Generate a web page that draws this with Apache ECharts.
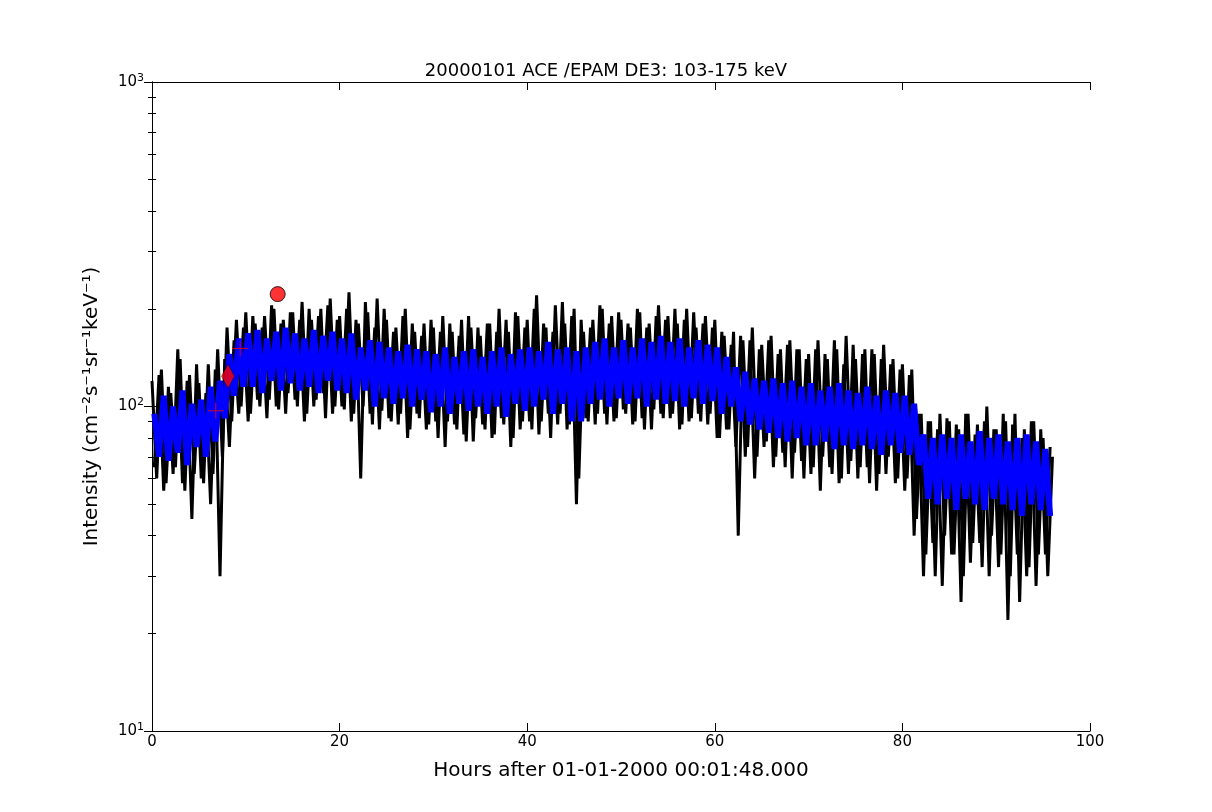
<!DOCTYPE html>
<html><head><meta charset="utf-8">
<script src="https://cdn.jsdelivr.net/npm/echarts@6/dist/echarts.min.js"></script>
<style>html,body{margin:0;background:#fff}#c{width:1212px;height:812px}</style>
</head><body><div id="c"></div>
<script>
const stepHours = 0.5;
const blackValues = [
120,60,130,58,110,65,140,55,125,62,
118,58,135,62,150,70,175,90,185,100,
195,95,180,100,190,105,200,98,185,110,
195,100,210,95,185,105,200,92,215,100,
190,98,225,95,180,100,195,88,215,97,
185,90,175,95,200,85,170,92,180,88,
175,80,190,90,170,85,185,78,175,92,
165,85,180,82,200,88,170,80,190,90,
185,85,220,90,175,80,205,95,180,88,
200,60,170,90,185,95,200,88,190,92,
185,95,175,90,195,85,180,98,205,92,
190,95,180,88,200,92,175,90,190,95,
185,80,165,85,170,40,160,75,175,70,
155,78,165,70,150,65,160,72,150,60,
145,65,160,70,140,62,150,60,165,68,
140,65,150,58,145,62,155,70,140,60,
135,60,130,45,95,35,90,30,95,40,
90,35,85,30,95,38,88,32,100,40,
85,35,90,30,95,25,85,32,90,35,
80,30,70];
const blackValues2 = [
65,125,55,115,62,150,58,120,45,135,
60,110,50,130,30,140,75,160,95,175,
90,190,105,175,92,205,100,180,95,195,
105,185,90,200,100,190,110,205,95,185,
100,200,90,185,60,210,95,175,85,200,
92,170,88,190,80,180,95,165,85,185,
90,170,75,180,88,165,82,190,78,175,
88,180,80,170,92,185,75,195,85,175,
90,200,82,180,95,170,88,210,85,190,
50,185,92,175,88,205,95,180,90,195,
98,180,88,200,92,175,85,190,95,185,
92,200,85,185,90,195,95,180,88,175,
80,170,85,155,75,165,70,160,60,150,
75,160,65,145,72,155,60,150,68,140,
62,150,55,145,65,160,58,135,62,155,
60,145,65,150,55,140,62,135,58,130,
55,125,40,95,30,90,38,85,28,92,
35,88,25,95,33,82,38,90,30,85,
32,95,22,88,35,80,30,90,28,85,
35,75];
const blueValues = [
95,70,108,68,100,72,112,66,102,75,
105,70,115,78,120,92,145,108,162,115,
168,115,172,110,162,120,170,112,175,118,
168,112,162,115,172,110,165,120,170,112,
162,110,168,105,152,112,160,100,158,106,
152,102,148,106,155,100,150,105,148,96,
145,100,152,95,142,102,148,97,150,100,
142,95,148,100,152,93,145,102,150,97,
152,100,148,105,158,95,150,102,152,90,
148,90,152,102,158,105,162,100,152,106,
160,102,152,106,162,100,158,105,165,102,
158,104,162,100,152,106,160,102,155,104,
152,95,142,100,132,90,128,88,122,85,
120,83,122,80,118,78,120,80,115,76,
118,76,112,78,115,74,118,76,112,74,
110,76,115,74,108,71,112,76,110,72,
108,71,102,66,82,52,80,50,82,52,
80,48,82,52,78,50,84,48,80,52,
82,50,78,48,80,46,82,50,78,48,
74,46];
const circlePt = [[13.4, 222]];
const diamondPt = [[8.1, 124]];
const plusPts = [[9.4, 151], [6.8, 97]];

const blackData = blackValues.map((v,i)=>[i*stepHours, v]);
const blackData2 = blackValues2.map((v,i)=>[i*stepHours+0.25, v]);
const blueData = blueValues.map((v,i)=>[i*stepHours+0.25, v]);
const plusPath = 'path://M-1,0L1,0M0,-1L0,1';
const ff = 'DejaVu Sans';
const logLabel = {fontFamily:ff,fontSize:15,color:'#000',
  formatter:v=>'{b|10}{s|'+Math.round(Math.log10(v))+'}',
  rich:{b:{fontSize:15,fontFamily:ff,color:'#000'},s:{fontSize:11,fontFamily:ff,color:'#000',verticalAlign:'top',padding:[0,0,8,0]}}};
const yBase = {type:'log',min:10,max:1000,logBase:10,
  axisLine:{show:true,lineStyle:{color:'#000',width:1}},
  axisTick:{inside:true,length:8,lineStyle:{color:'#000'}},
  minorTick:{show:true,splitNumber:9,length:4,lineStyle:{color:'#000'}},
  splitLine:{show:false}};
const xBase = {type:'value',min:0,max:100,interval:20,
  axisLine:{show:true,onZero:false,lineStyle:{color:'#000',width:1}},
  axisTick:{inside:true,length:8,lineStyle:{color:'#000'}},
  splitLine:{show:false}};
const chart = echarts.init(document.getElementById('c'));
chart.setOption({
  animation:false,
  title:{text:'20000101 ACE /EPAM DE3: 103-175 keV',left:'center',top:57,
    textStyle:{fontFamily:ff,fontSize:18,fontWeight:'normal',color:'#000'}},
  grid:{left:152,right:122,top:82,bottom:81},
  xAxis:[Object.assign({},xBase,{position:'bottom',name:'Hours after 01-01-2000 00:01:48.000',
      nameLocation:'middle',nameGap:30,nameTextStyle:{fontFamily:ff,fontSize:20,color:'#000'},
      axisLabel:{fontFamily:ff,fontSize:15,color:'#000',margin:4}}),
    Object.assign({},xBase,{position:'top',axisLabel:{show:false}})],
  yAxis:[Object.assign({},yBase,{position:'left',axisLabel:logLabel,
      name:'Intensity (cm⁻²s⁻¹sr⁻¹keV⁻¹)',nameLocation:'middle',nameGap:50,
      nameTextStyle:{fontFamily:ff,fontSize:20,color:'#000'}}),
    Object.assign({},yBase,{position:'right',axisLabel:{show:false}})],
  series:[
    {type:'line',data:blackData,symbol:'none',lineStyle:{color:'#000',width:3},z:1},
    {type:'line',data:blackData2,symbol:'none',lineStyle:{color:'#000',width:3},z:1},
    {type:'line',data:blueData,symbol:'none',lineStyle:{color:'#0000ff',width:6},z:2},
    {type:'scatter',data:circlePt,symbol:'circle',symbolSize:15,itemStyle:{color:'#ff0000',borderColor:'#000',borderWidth:1},z:5},
    {type:'scatter',data:diamondPt,symbol:'diamond',symbolSize:[13,24],itemStyle:{color:'#ff0000',borderColor:'#000',borderWidth:0.5},z:5},
    {type:'scatter',data:plusPts,symbol:plusPath,symbolSize:16,itemStyle:{color:'none',borderColor:'#ff0000',borderWidth:1},z:5}
  ]
});
</script></body></html>
